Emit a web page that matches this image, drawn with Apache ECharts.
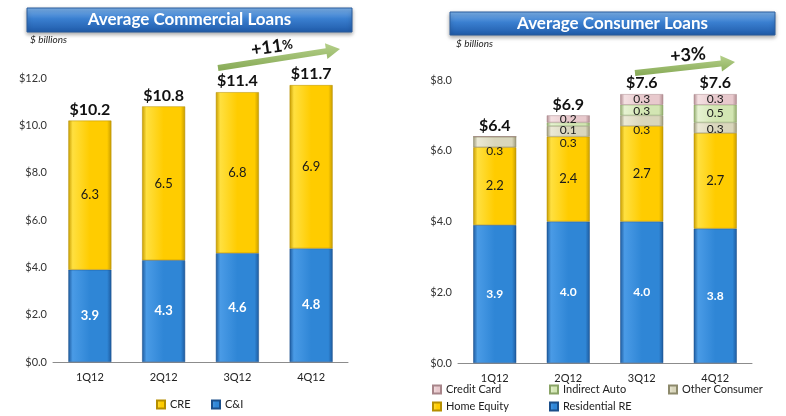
<!DOCTYPE html>
<html><head><meta charset="utf-8">
<script src="https://cdn.jsdelivr.net/npm/echarts@6/dist/echarts.min.js"></script>
<style>html,body{margin:0;padding:0;background:#fff}#c{width:786px;height:416px}</style>
</head><body><div id="c"></div>
<script>
const categories = ['1Q12', '2Q12', '3Q12', '4Q12'];
const ciValues = [3.9, 4.3, 4.6, 4.8];
const creValues = [6.3, 6.5, 6.8, 6.9];
const commercialTotals = [10.2, 10.8, 11.4, 11.7];
const residentialRE = [3.9, 4.0, 4.0, 3.8];
const homeEquity = [2.2, 2.4, 2.7, 2.7];
const otherConsumer = [0.3, 0.3, 0.3, 0.3];
const indirectAuto = [0, 0.1, 0.3, 0.5];
const creditCard = [0, 0.2, 0.3, 0.3];
const consumerTotals = [6.4, 6.9, 7.6, 7.6];

// label nudges (layout only, pixels)
const otherLabelShift = [9, 12, 9, 1];
const autoLabelShift = [0, 6, 1, 0];

const FONT = 'Lato';
function bevel(edge, mid, light) {
  return { type: 'linear', x: 0, y: 0, x2: 1, y2: 0, colorStops: [
    { offset: 0, color: edge }, { offset: 0.1, color: light }, { offset: 0.5, color: mid },
    { offset: 0.9, color: mid }, { offset: 1, color: edge } ] };
}
const BLUE = bevel('#1d5a9e', '#2f86d6', '#4a9be6');
const YELLOW = bevel('#c79c00', '#ffcc00', '#ffe040');
const OTHER = bevel('#9c9878', '#d9d6bc', '#ebe9d6');
const AUTO = bevel('#8fa86a', '#d3e6b3', '#e6f2d2');
const CARD = bevel('#b08b90', '#e8c9cd', '#f4e0e2');

function arrowPoints(x1, y1, x2, y2, w, hw, hl) {
  const dx = x2 - x1, dy = y2 - y1, L = Math.hypot(dx, dy);
  const ux = dx / L, uy = dy / L, nx = -uy, ny = ux;
  const bx = x2 - ux * hl, by = y2 - uy * hl;
  return [
    [x1 + nx * w / 2, y1 + ny * w / 2], [bx + nx * w / 2, by + ny * w / 2],
    [bx + nx * hw / 2, by + ny * hw / 2], [x2, y2],
    [bx - nx * hw / 2, by - ny * hw / 2], [bx - nx * w / 2, by - ny * w / 2],
    [x1 - nx * w / 2, y1 - ny * w / 2]
  ];
}
const bannerFill = { type: 'linear', x: 0, y: 0, x2: 0, y2: 1, colorStops: [
  { offset: 0, color: '#7fb4ec' }, { offset: 0.45, color: '#3a7fd0' }, { offset: 1, color: '#1f5aa8' } ] };
const arrowFill = { type: 'linear', x: 0, y: 0, x2: 0, y2: 1, colorStops: [
  { offset: 0, color: '#b5d08a' }, { offset: 1, color: '#86a955' } ] };

function banner(x, y, w, h, text) {
  return [
    { type: 'rect', shape: { x: x, y: y, width: w, height: h }, style: { fill: bannerFill, stroke: '#2a5d9c', lineWidth: 1, shadowBlur: 4, shadowColor: 'rgba(0,0,0,0.35)', shadowOffsetY: 2 } },
    { type: 'text', x: x + w / 2, y: y + h / 2, style: { text: text, fill: '#fff', font: 'bold 17px ' + FONT, textAlign: 'center', textVerticalAlign: 'middle' } }
  ];
}

const axisCommon = {
  axisLine: { lineStyle: { color: '#8c8c8c' } },
  axisTick: { lineStyle: { color: '#8c8c8c' }, length: 4 },
  splitLine: { show: false },
  axisLabel: { color: '#333', fontSize: 11, fontFamily: FONT, formatter: v => '$' + v.toFixed(1), margin: 6 }
};
const xCommon = {
  type: 'category', data: categories,
  axisLine: { lineStyle: { color: '#8c8c8c' } },
  axisTick: { lineStyle: { color: '#8c8c8c' }, length: 5 },
  axisLabel: { color: '#222', fontSize: 11, fontFamily: FONT, margin: 10 }
};
function small(v) { return v.value ? v.value.toFixed(1) : ''; }
const smallLabel = { show: true, position: 'inside', color: '#1a1a1a', fontSize: 12, fontFamily: FONT, formatter: small };
const totalLabel = (arr) => ({ show: true, position: 'top', distance: 3, color: '#111', fontSize: 16, fontWeight: 'bold', fontFamily: FONT, formatter: p => '$' + arr[p.dataIndex].toFixed(1) });
const shifted = (vals, shifts) => vals.map((v, i) => ({ value: v, label: { offset: [0, shifts[i]] } }));

const chart = echarts.init(document.getElementById('c'), null, { renderer: 'canvas' });
const legendText = { color: '#222', fontSize: 11, fontFamily: FONT };
function leg(name, left, top) {
  return { data: [name], left: left, top: top, itemWidth: 8, itemHeight: 8, icon: 'rect', itemGap: 4, textStyle: legendText, padding: 0, selectedMode: false };
}
chart.setOption({
  animation: false,
  grid: [
    { left: 53, right: 438, top: 78, bottom: 54 },
    { left: 458, right: 34, top: 80, bottom: 53 }
  ],
  xAxis: [Object.assign({ gridIndex: 0 }, xCommon), Object.assign({ gridIndex: 1 }, xCommon)],
  yAxis: [
    Object.assign({ gridIndex: 0, type: 'value', min: 0, max: 12, interval: 2 }, axisCommon),
    Object.assign({ gridIndex: 1, type: 'value', min: 0, max: 8, interval: 2 }, axisCommon)
  ],
  legend: [
    leg('CRE', 156, 399), leg('C&I', 211, 399),
    leg('Credit Card', 432, 384), leg('Indirect Auto', 549, 384), leg('Other Consumer', 668, 384),
    leg('Home Equity', 432, 401), leg('Residential RE', 549, 401)
  ],
  series: [
    { name: 'C&I', type: 'bar', stack: 'c', xAxisIndex: 0, yAxisIndex: 0, barWidth: 43, data: ciValues,
      itemStyle: { color: BLUE, borderColor: '#1b4f8a', borderWidth: 0.5 },
      label: { show: true, position: 'inside', color: '#fff', fontSize: 13, fontWeight: 'bold', fontFamily: FONT, formatter: p => p.value.toFixed(1) } },
    { name: 'CRE', type: 'bar', stack: 'c', xAxisIndex: 0, yAxisIndex: 0, barWidth: 43, data: creValues,
      itemStyle: { color: YELLOW, borderColor: '#b58e00', borderWidth: 0.5 },
      label: { show: true, position: 'inside', color: '#1a1a1a', fontSize: 13, fontFamily: FONT, formatter: p => p.value.toFixed(1) } },
    { name: 'CommTotal', type: 'bar', stack: 'c', xAxisIndex: 0, yAxisIndex: 0, barWidth: 43, data: commercialTotals.map(() => 0),
      itemStyle: { color: 'transparent' }, label: totalLabel(commercialTotals) },

    { name: 'Residential RE', type: 'bar', stack: 'k', xAxisIndex: 1, yAxisIndex: 1, barWidth: 43, data: residentialRE,
      itemStyle: { color: BLUE, borderColor: '#1b4f8a', borderWidth: 0.5 },
      label: { show: true, position: 'inside', color: '#fff', fontSize: 12, fontWeight: 'bold', fontFamily: FONT, formatter: p => p.value.toFixed(1) } },
    { name: 'Home Equity', type: 'bar', stack: 'k', xAxisIndex: 1, yAxisIndex: 1, barWidth: 43, data: homeEquity,
      itemStyle: { color: YELLOW, borderColor: '#b58e00', borderWidth: 0.5 },
      label: { show: true, position: 'inside', color: '#1a1a1a', fontSize: 13, fontFamily: FONT, formatter: p => p.value.toFixed(1) } },
    { name: 'Other Consumer', type: 'bar', stack: 'k', xAxisIndex: 1, yAxisIndex: 1, barWidth: 43, data: shifted(otherConsumer, otherLabelShift),
      itemStyle: { color: OTHER, borderColor: '#8d8a6c', borderWidth: 0.5 }, label: smallLabel },
    { name: 'Indirect Auto', type: 'bar', stack: 'k', xAxisIndex: 1, yAxisIndex: 1, barWidth: 43, data: shifted(indirectAuto, autoLabelShift),
      itemStyle: { color: AUTO, borderColor: '#8aa466', borderWidth: 0.5 }, label: smallLabel },
    { name: 'Credit Card', type: 'bar', stack: 'k', xAxisIndex: 1, yAxisIndex: 1, barWidth: 43, data: creditCard,
      itemStyle: { color: CARD, borderColor: '#a8858a', borderWidth: 0.5 }, label: smallLabel },
    { name: 'ConsTotal', type: 'bar', stack: 'k', xAxisIndex: 1, yAxisIndex: 1, barWidth: 43, data: consumerTotals.map(() => 0),
      itemStyle: { color: 'transparent' }, label: totalLabel(consumerTotals) }
  ],
  color: ['#2f86d6', '#ffcc00', '#fff', '#2f86d6', '#ffcc00', '#d9d6bc', '#d3e6b3', '#e8c9cd'],
  graphic: [].concat(
    banner(27, 8, 325, 24, 'Average Commercial Loans'),
    banner(450, 12, 325, 23, 'Average Consumer Loans'),
    [
      { type: 'text', x: 30, y: 35, style: { text: '$ billions', fill: '#222', font: 'italic 10px ' + FONT } },
      { type: 'text', x: 456, y: 39, style: { text: '$ billions', fill: '#222', font: 'italic 10px ' + FONT } },
      { type: 'polygon', shape: { points: arrowPoints(218, 68, 340, 49, 6, 16, 14) }, style: { fill: arrowFill } },
      { type: 'polygon', shape: { points: arrowPoints(635, 73, 735, 62, 6, 16, 14) }, style: { fill: arrowFill } },
      { type: 'text', x: 272, y: 47, rotation: 0.14, style: { text: '{a|+11}{b|%}', rich: { a: { font: 'bold 18px ' + FONT, fill: '#111' }, b: { font: 'bold 13px ' + FONT, fill: '#111' } }, textAlign: 'center', textVerticalAlign: 'middle' } },
      { type: 'text', x: 688, y: 55, rotation: 0.08, style: { text: '+3%', fill: '#111', font: 'bold 18px ' + FONT, textAlign: 'center', textVerticalAlign: 'middle' } }
    ]
  )
});
</script></body></html>
